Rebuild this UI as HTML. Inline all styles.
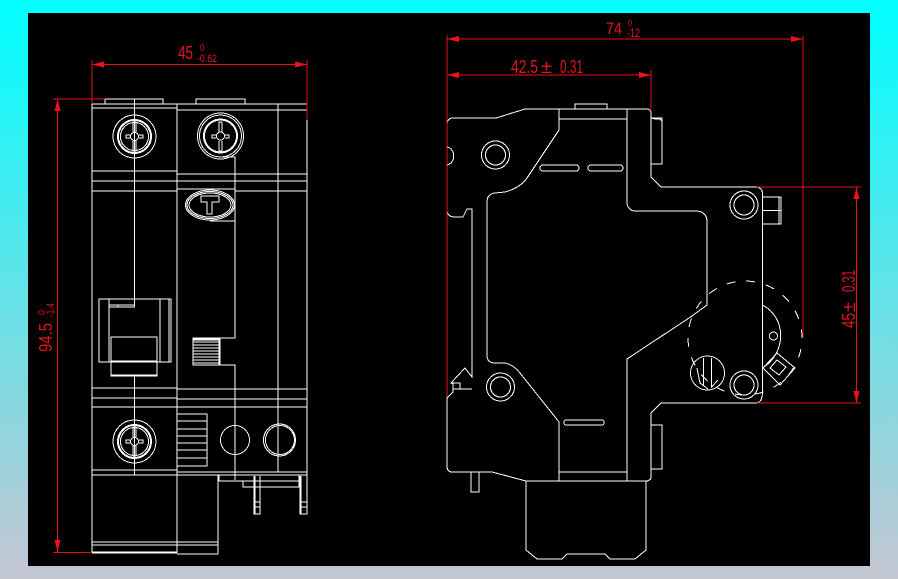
<!DOCTYPE html>
<html><head><meta charset="utf-8">
<style>
html,body{margin:0;padding:0;width:898px;height:579px;overflow:hidden;background:linear-gradient(180deg,#00ffff 0%,#c4c6d2 100%)}
svg{position:absolute;left:0;top:0}
text{font-family:"Liberation Sans",sans-serif;fill:#e8141c}
</style></head><body>
<svg width="898" height="579" viewBox="0 0 898 579">
<rect x="28" y="13" width="842" height="553" fill="#000"/>
<g fill="none" stroke="#fff" stroke-width="1" shape-rendering="crispEdges">
<!-- left view -->
<path d="M92 104H307M92 104V553M177 104V553M278 104V472M307 104V475M134.500 99V305M134.500 376V475M105 104V99H163V104M196 104V99H245V104"/>
<path d="M92 108H177M177 110H307M92 171H177M177 174H307M92 181H307M92 191H177M235 191H307M177 189H235"/>
<path d="M92 388H177M177 389H307M92 398H177M177 399H307M92 407H307M92 470H177M177 472H307M92 475H307"/>
<g id="s1"><circle cx="134.500" cy="136.500" r="21.500"/><circle cx="134.500" cy="136.500" r="17"/><circle cx="134.500" cy="136.500" r="16"/><circle cx="134.500" cy="136.500" r="14"/><circle cx="134.500" cy="136.500" r="4"/><path d="M130 135H126V138H130M139 135H143V138H139M133 132V122H136V132M133 141V151H136V141"/></g>
<circle cx="134.500" cy="441.500" r="21.500"/><circle cx="134.500" cy="441.500" r="17"/><circle cx="134.500" cy="441.500" r="16"/><circle cx="134.500" cy="441.500" r="14"/><circle cx="134.500" cy="441.500" r="4"/><path d="M130 440H126V443H130M139 440H143V443H139M133 437V427H136V437M133 446V456H136V446"/>
<circle cx="220.500" cy="136" r="23"/><circle cx="220.500" cy="136" r="21"/><circle cx="220.500" cy="136" r="17"/><circle cx="220.500" cy="136" r="16"/><circle cx="220.500" cy="136" r="4"/><path d="M216 135H212V138H216M225 135H229V138H225M219 132V122H222V132M219 141V151H222V141"/>
<path d="M220 157H235V338H220M220 365H235V480"/>
<ellipse cx="210" cy="205" rx="24.500" ry="15"/><ellipse cx="210" cy="205" rx="23" ry="13.500"/><ellipse cx="210" cy="205" rx="21" ry="12"/>
<path d="M201 196H219V202H212V214H207V202H201Z"/>
<path d="M210 221H235" stroke-width="1"/>
<rect x="193" y="338" width="27" height="27"/>
<path d="M193 339H220M193 340H220M193 342H220M193 345H220M193 348H220M193 351H220M193 354H220M193 357H220M193 360H220M193 363H220M219 338V365M220 338V365"/>
<!-- handle -->
<path d="M99 299H169V362H99ZM109 299V362M160 299V362M169 299H171V362H169M109 305H134.500V307H109M118 305V307"/>
<rect x="111" y="337" width="46" height="39"/><path d="M111 361H157M111 375H157"/>
<!-- bottom hatch -->
<rect x="177" y="414" width="30" height="52"/><path d="M177 421H207M177 429H207M177 436H207M177 443H207M177 450H207M177 458H207"/>
<circle cx="235" cy="440" r="14.500"/><circle cx="280" cy="440" r="14.500"/><circle cx="279.500" cy="440" r="16"/>
<path d="M219 475V481H299M243 481V487H299V481M299 475V481"/>
<path d="M254 476V514H260V476M255 476V514M300 476V514H307V475M301 476V514M254 502H260M254 507H260M300 502H307M300 507H307M254 514H260M300 514H307"/>
<path d="M92 542H218M92 545H218M92 553H177M177 554H218M92 552H177M218 475V554"/>
<!-- right view -->
<path d="M447 210V125Q447 118 453 118H496L525 109H648Q651 110 651 113V177L661 187H757Q762.500 188 762.500 194V393Q762 402 757 403H661L651 413V477Q651 480 647 481H526L492 472H452Q447 472 447 466V398L453 392V384L451 383L465 368L472 377V209H467L463 217H455Q447 217 447 210Z"/>
<path d="M447 147C456 149 456 163 447 165"/>
<path d="M472 389H453M451 383H460V389"/>
<path d="M559 109V130L527 178Q520 188 505 192L495 193Q487 194 487 202V355Q487 363 495 363H505Q514 365 520 373L559 422V481M559 119H627M627 109V203Q628 211 636 211H697Q707 212 707 222V305L692 316L627 359V481M559 472H627"/>
<path d="M526 481V550L537 559H562L567 554H605L610 559H635L646 550V481"/>
<path d="M575 109V104H607V109M651 118H662V164H651M651 118L655 119H660L662 121M651 425H662V469H651M471 472V492H479V472"/>
<circle cx="495.500" cy="155" r="14"/><circle cx="495.500" cy="155" r="10"/>
<circle cx="500.500" cy="387" r="14"/><circle cx="500.500" cy="387" r="10"/>
<circle cx="744" cy="205" r="14"/><circle cx="744" cy="205" r="10"/>
<circle cx="744" cy="385" r="14"/><circle cx="744" cy="385" r="10"/>
<rect x="540" y="165" width="39" height="6" rx="3"/><rect x="588" y="165" width="35" height="6" rx="3"/><rect x="564" y="420" width="40" height="5" rx="2"/>
<path d="M762.500 197H781V224H762.500M762.500 210.500H781M779 197V224"/>
<circle cx="745" cy="338" r="57" stroke-dasharray="9 10.900" stroke-dashoffset="9"/>
<path d="M762.500 305C787 318 786 352 764 367"/>
<circle cx="773.500" cy="336" r="4"/>
<path d="M763 368L777 353L795 368L780 385ZM770 368L777 360L786 367L779 375Z"/>
<circle cx="707.500" cy="373" r="17"/>
<path d="M697 368L700 383L708 389M703.500 358V386M711.500 358V387L718 380"/>
</g>
<g fill="none" stroke="#e8101c" stroke-width="1" shape-rendering="crispEdges">
<path d="M92 60V104M307 60V120M92 64.500H307"/>
<path d="M57.500 99V552M53 99H105M53 552.500H92"/>
<path d="M447 35V397M803 36V337M447 39H803"/>
<path d="M651 70V110M447 75H651"/>
<path d="M757 187H861M757 403H861M856.500 187V403"/>
</g>
<g fill="#f01018" stroke="none">
<path d="M92 64.500L104 61.500V67.500ZM307 64.500L295 61.500V67.500Z"/>
<path d="M57.500 99L54.500 111H60.500ZM57.500 552L54.500 540H60.500Z"/>
<path d="M447 39L459 36V42ZM803 39L791 36V42Z"/>
<path d="M447 75L459 72V78ZM651 75L639 72V78Z"/>
<path d="M856.500 187L853.500 199H859.500ZM856.500 403L853.500 391H859.500Z"/>
</g>
<text x="178" y="59" font-size="18" textLength="15" lengthAdjust="spacingAndGlyphs">45</text>
<text x="200" y="51" font-size="10" textLength="4" lengthAdjust="spacingAndGlyphs">0</text>
<text x="197" y="62" font-size="11" textLength="20" lengthAdjust="spacingAndGlyphs">-0.62</text>
<text x="606" y="34" font-size="17" textLength="16" lengthAdjust="spacingAndGlyphs">74</text>
<text x="628" y="26" font-size="9" textLength="4" lengthAdjust="spacingAndGlyphs">0</text>
<text x="627" y="37" font-size="12" textLength="13" lengthAdjust="spacingAndGlyphs">-12</text>
<text x="511" y="73" font-size="18" textLength="27" lengthAdjust="spacingAndGlyphs">42.5</text>
<text x="541" y="73" font-size="18" textLength="11" lengthAdjust="spacingAndGlyphs">±</text>
<text x="560" y="73" font-size="18" textLength="23" lengthAdjust="spacingAndGlyphs">0.31</text>
<text transform="translate(52 352) rotate(-90)" font-size="18" textLength="29" lengthAdjust="spacingAndGlyphs">94.5</text>
<text transform="translate(45 315) rotate(-90)" font-size="10" textLength="5" lengthAdjust="spacingAndGlyphs">0</text>
<text transform="translate(54 317) rotate(-90)" font-size="11" textLength="14" lengthAdjust="spacingAndGlyphs">-1.4</text>
<text transform="translate(855 328) rotate(-90)" font-size="18" textLength="15" lengthAdjust="spacingAndGlyphs">45</text>
<text transform="translate(855 312) rotate(-90)" font-size="18" textLength="10" lengthAdjust="spacingAndGlyphs">±</text>
<text transform="translate(855 292) rotate(-90)" font-size="18" textLength="22" lengthAdjust="spacingAndGlyphs">0.31</text>
</svg>
</body></html>
